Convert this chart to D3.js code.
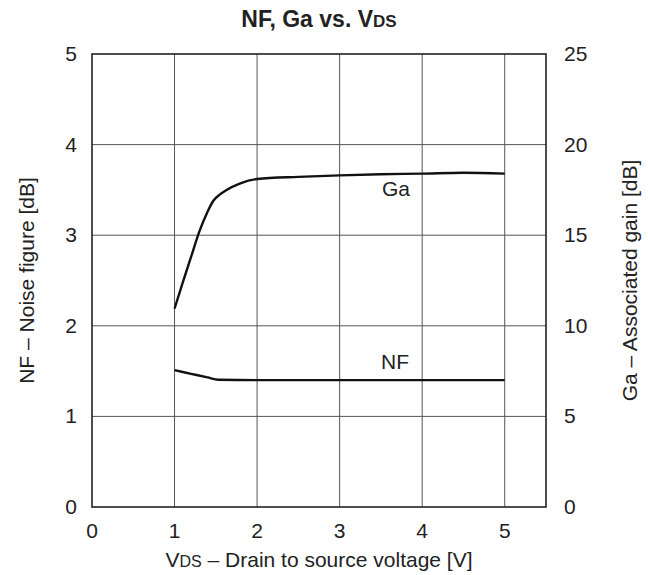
<!DOCTYPE html>
<html>
<head>
<meta charset="utf-8">
<script src="https://cdn.jsdelivr.net/npm/d3@7"></script>
<style>
  body { margin: 0; background: #fff; }
  svg { font-family: "Liberation Sans", Arial, sans-serif; }
</style>
</head>
<body>
<div id="chart"></div>
<script>
// Data
const xTicks = [0, 1, 2, 3, 4, 5];
const yLeftTicks = [0, 1, 2, 3, 4, 5];
const yRightTicks = [0, 5, 10, 15, 20, 25];

// Ga (right axis, dB)
const gaVds = [1, 1.1, 1.2, 1.3, 1.4, 1.47, 1.55, 1.63, 1.79, 2.0, 2.5, 3, 3.5, 4, 4.5, 5];
const gaVals = [10.95, 12.4, 13.8, 15.2, 16.3, 16.9, 17.25, 17.5, 17.85, 18.1, 18.22, 18.3, 18.36, 18.4, 18.45, 18.4];

// NF (left axis, dB)
const nfVds = [1, 1.2, 1.4, 1.53, 2, 3, 4, 5];
const nfVals = [1.51, 1.47, 1.43, 1.405, 1.40, 1.40, 1.40, 1.40];

const width = 648, height = 575;
const margin = { left: 92, right: 102, top: 54, bottom: 68 };

const svg = d3.select("#chart").append("svg")
  .attr("width", width)
  .attr("height", height);

const x = d3.scaleLinear().domain([0, 5.5]).range([margin.left, width - margin.right]);
const yL = d3.scaleLinear().domain([0, 5]).range([height - margin.bottom, margin.top]);
const yR = d3.scaleLinear().domain([0, 25]).range([height - margin.bottom, margin.top]);

// Grid lines
const grid = svg.append("g").attr("stroke", "#555").attr("stroke-width", 1);
grid.selectAll("line.v")
  .data(xTicks.filter(d => d > 0))
  .join("line")
  .attr("x1", d => x(d)).attr("x2", d => x(d))
  .attr("y1", yL(0)).attr("y2", yL(5));
grid.selectAll("line.h")
  .data(yLeftTicks.filter(d => d > 0 && d < 5))
  .join("line")
  .attr("x1", x(0)).attr("x2", x(5.5))
  .attr("y1", d => yL(d)).attr("y2", d => yL(d));

// Frame
svg.append("rect")
  .attr("x", x(0)).attr("y", yL(5))
  .attr("width", x(5.5) - x(0)).attr("height", yL(0) - yL(5))
  .attr("fill", "none").attr("stroke", "#222").attr("stroke-width", 1.6);

// Tick labels
const tickSize = 21;
svg.append("g").selectAll("text")
  .data(xTicks).join("text")
  .attr("x", d => x(d)).attr("y", yL(0) + 31)
  .attr("text-anchor", "middle")
  .attr("font-size", tickSize).attr("fill", "#222")
  .text(d => d);
svg.append("g").selectAll("text")
  .data(yLeftTicks).join("text")
  .attr("x", x(0) - 15).attr("y", d => yL(d) + 7)
  .attr("text-anchor", "end")
  .attr("font-size", tickSize).attr("fill", "#222")
  .text(d => d);
svg.append("g").selectAll("text")
  .data(yRightTicks).join("text")
  .attr("x", x(5.5) + 18).attr("y", d => yR(d) + 7)
  .attr("text-anchor", "start")
  .attr("font-size", tickSize).attr("fill", "#222")
  .text(d => d);

// Curves
const line = d3.line().curve(d3.curveMonotoneX);
svg.append("path")
  .attr("d", line.x(d => x(d[0])).y(d => yR(d[1]))(d3.zip(gaVds, gaVals)))
  .attr("fill", "none").attr("stroke", "#111").attr("stroke-width", 2.4);
svg.append("path")
  .attr("d", line.x(d => x(d[0])).y(d => yL(d[1]))(d3.zip(nfVds, nfVals)))
  .attr("fill", "none").attr("stroke", "#111").attr("stroke-width", 2.4);

// Curve labels
svg.append("text").attr("x", 410).attr("y", 196)
  .attr("text-anchor", "end").attr("font-size", 21).attr("fill", "#222").text("Ga");
svg.append("text").attr("x", 409).attr("y", 369)
  .attr("text-anchor", "end").attr("font-size", 21).attr("fill", "#222").text("NF");

// Title
const title = svg.append("text")
  .attr("x", (x(0) + x(5.5)) / 2).attr("y", 27)
  .attr("text-anchor", "middle")
  .attr("font-size", 23).attr("font-weight", "bold").attr("fill", "#222");
title.append("tspan").text("NF, Ga vs. V");
title.append("tspan").attr("font-size", 17).text("DS");

// X axis title
const xTitle = svg.append("text")
  .attr("x", (x(0) + x(5.5)) / 2).attr("y", 567)
  .attr("text-anchor", "middle")
  .attr("font-size", 21).attr("fill", "#222");
xTitle.append("tspan").text("V");
xTitle.append("tspan").attr("font-size", 16).text("DS");
xTitle.append("tspan").text(" \u2013 Drain to source voltage [V]");

// Left axis title
svg.append("text")
  .attr("transform", `translate(34,${(yL(0) + yL(5)) / 2}) rotate(-90)`)
  .attr("text-anchor", "middle")
  .attr("font-size", 21).attr("fill", "#222")
  .text("NF \u2013 Noise figure [dB]");

// Right axis title
svg.append("text")
  .attr("transform", `translate(637,${(yL(0) + yL(5)) / 2}) rotate(-90)`)
  .attr("text-anchor", "middle")
  .attr("font-size", 21).attr("fill", "#222")
  .text("Ga \u2013 Associated gain [dB]");
</script>
</body>
</html>
